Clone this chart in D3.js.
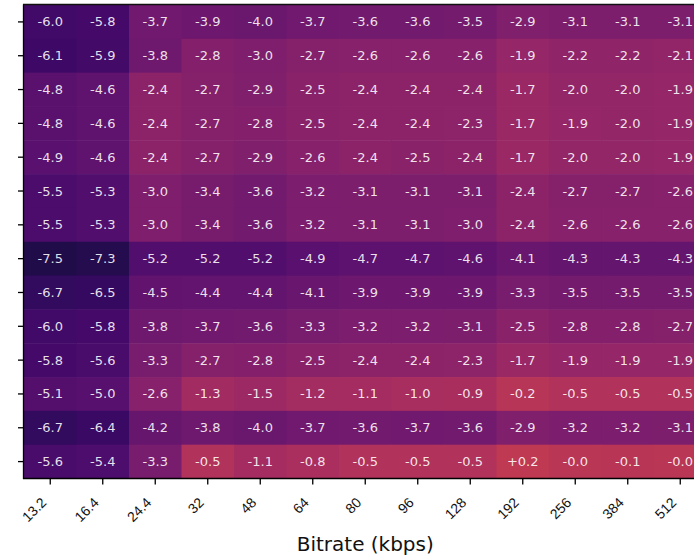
<!DOCTYPE html>
<html>
<head>
<meta charset="utf-8">
<script src="https://cdn.jsdelivr.net/npm/d3@7"></script>
<style>
  html, body { margin: 0; padding: 0; background: #fff; }
  svg { display: block; font-family: "DejaVu Sans", sans-serif; }
</style>
</head>
<body>
<script>
const bitrates = ["13.2", "16.4", "24.4", "32", "48", "64", "80", "96", "128", "192", "256", "384", "512"];
const rowIds = ["r1","r2","r3","r4","r5","r6","r7","r8","r9","r10","r11","r12","r13","r14"];
const row1  = [-6.0, -5.8, -3.7, -3.9, -4.0, -3.7, -3.6, -3.6, -3.5, -2.9, -3.1, -3.1, -3.1];
const row2  = [-6.1, -5.9, -3.8, -2.8, -3.0, -2.7, -2.6, -2.6, -2.6, -1.9, -2.2, -2.2, -2.1];
const row3  = [-4.8, -4.6, -2.4, -2.7, -2.9, -2.5, -2.4, -2.4, -2.4, -1.7, -2.0, -2.0, -1.9];
const row4  = [-4.8, -4.6, -2.4, -2.7, -2.8, -2.5, -2.4, -2.4, -2.3, -1.7, -1.9, -2.0, -1.9];
const row5  = [-4.9, -4.6, -2.4, -2.7, -2.9, -2.6, -2.4, -2.5, -2.4, -1.7, -2.0, -2.0, -1.9];
const row6  = [-5.5, -5.3, -3.0, -3.4, -3.6, -3.2, -3.1, -3.1, -3.1, -2.4, -2.7, -2.7, -2.6];
const row7  = [-5.5, -5.3, -3.0, -3.4, -3.6, -3.2, -3.1, -3.1, -3.0, -2.4, -2.6, -2.6, -2.6];
const row8  = [-7.5, -7.3, -5.2, -5.2, -5.2, -4.9, -4.7, -4.7, -4.6, -4.1, -4.3, -4.3, -4.3];
const row9  = [-6.7, -6.5, -4.5, -4.4, -4.4, -4.1, -3.9, -3.9, -3.9, -3.3, -3.5, -3.5, -3.5];
const row10 = [-6.0, -5.8, -3.8, -3.7, -3.6, -3.3, -3.2, -3.2, -3.1, -2.5, -2.8, -2.8, -2.7];
const row11 = [-5.8, -5.6, -3.3, -2.7, -2.8, -2.5, -2.4, -2.4, -2.3, -1.7, -1.9, -1.9, -1.9];
const row12 = [-5.1, -5.0, -2.6, -1.3, -1.5, -1.2, -1.1, -1.0, -0.9, -0.2, -0.5, -0.5, -0.5];
const row13 = [-6.7, -6.4, -4.2, -3.8, -4.0, -3.7, -3.6, -3.7, -3.6, -2.9, -3.2, -3.2, -3.1];
const row14 = [-5.6, -5.4, -3.3, -0.5, -1.1, -0.8, -0.5, -0.5, -0.5, 0.2, -0.04, -0.1, -0.03];
const rows = [row1,row2,row3,row4,row5,row6,row7,row8,row9,row10,row11,row12,row13,row14];
const xTitle = "Bitrate (kbps)";

(function () {
const W = 694, H = 557;
const pLeft = 24, pTop = 5, cellW = 52.5, pBottom = 478.5;

const svg = d3.select("body").append("svg").attr("width", W).attr("height", H);

const x = d3.scaleBand().domain(bitrates).range([pLeft, pLeft + cellW * bitrates.length]);
const y = d3.scaleBand().domain(rowIds).range([pTop, pBottom]);
const color = d3.scaleSequential(d3.interpolateInferno).domain([-10, 10]);

const cells = [];
rows.forEach((r, i) => r.forEach((v, j) => cells.push({row: rowIds[i], col: bitrates[j], v})));

const fmt = v => (v > 0 ? "+" : "-") + Math.abs(v).toFixed(1);

svg.append("g").selectAll("rect").data(cells).join("rect")
  .attr("x", d => x(d.col)).attr("y", d => y(d.row))
  .attr("width", x.bandwidth() + 0.5).attr("height", y.bandwidth() + 0.5)
  .attr("fill", d => color(d.v));

svg.append("g").selectAll("text").data(cells).join("text")
  .attr("x", d => x(d.col) + x.bandwidth() / 2)
  .attr("y", d => y(d.row) + y.bandwidth() / 2)
  .attr("text-anchor", "middle").attr("dy", "0.35em")
  .attr("font-size", 13).attr("fill", "rgba(255,255,255,0.88)")
  .text(d => fmt(d.v));

const xAxis = svg.append("g").attr("transform", `translate(0,${pBottom})`)
  .call(d3.axisBottom(x).tickSize(6).tickPadding(4));
xAxis.select(".domain").remove();
xAxis.selectAll(".tick line").attr("stroke", "#000").attr("stroke-width", 1.3);
xAxis.selectAll(".tick text")
  .attr("font-size", 14).attr("fill", "#111")
  .attr("text-anchor", "end")
  .attr("x", 0).attr("y", 0).attr("dy", 0)
  .attr("transform", "translate(-3,25) rotate(-45)");

const yAxis = svg.append("g").attr("transform", `translate(${pLeft},0)`)
  .call(d3.axisLeft(y).tickSize(6).tickFormat(""));
yAxis.select(".domain").remove();
yAxis.selectAll(".tick line").attr("stroke", "#000").attr("stroke-width", 1.3);

const pRight = pLeft + cellW * bitrates.length;
svg.append("line").attr("x1", pLeft - 0.5).attr("x2", pLeft - 0.5).attr("y1", pTop - 0.5).attr("y2", pBottom + 0.5).attr("stroke", "#000").attr("stroke-width", 1.3);
svg.append("line").attr("x1", pLeft - 1).attr("x2", pRight).attr("y1", pBottom).attr("y2", pBottom).attr("stroke", "#000").attr("stroke-width", 1.3);
svg.append("line").attr("x1", pLeft - 1).attr("x2", pRight).attr("y1", pTop - 0.5).attr("y2", pTop - 0.5).attr("stroke", "#111").attr("stroke-width", 1.3);

svg.append("text").attr("x", (pLeft + pRight) / 2).attr("y", 551)
  .attr("text-anchor", "middle").attr("font-size", 20).attr("fill", "#111")
  .text(xTitle);
})();
</script>
</body>
</html>
